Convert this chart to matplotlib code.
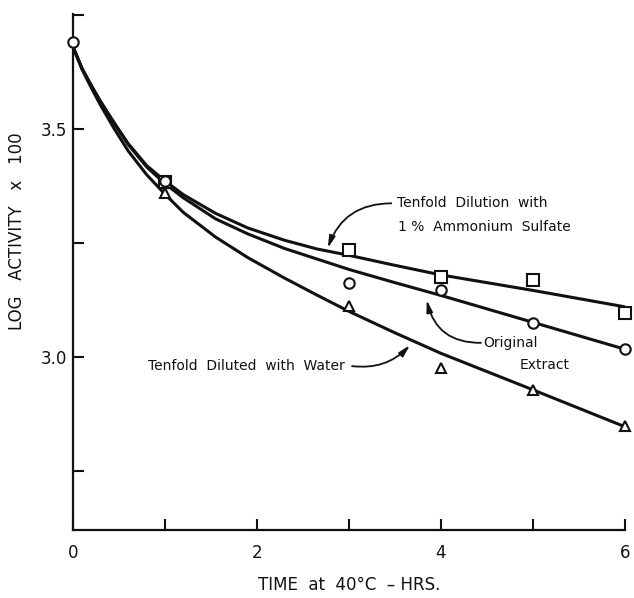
import matplotlib.pyplot as plt

# puntos medidos (horas, log actividad x 100)
t_pts = [0, 1, 3, 4, 5, 6]
sulfato_pts = [None, 3.384, 3.235, 3.176, 3.169, 3.096]
original_pts = [3.691, 3.385, 3.162, 3.148, 3.074, 3.017]
agua_pts = [None, 3.360, 3.112, 2.975, 2.928, 2.849]

# curvas trazadas a mano
t_curva = [0, 0.1, 0.2, 0.3, 0.45, 0.6, 0.8, 1.0, 1.2, 1.55, 1.9, 2.3, 2.65, 3.0,
           3.5, 4.0, 5.0, 6.0]
sulfato_curva = [3.680, 3.632, 3.595, 3.560, 3.513, 3.468, 3.420, 3.386, 3.356, 3.315,
                 3.283, 3.256, 3.237, 3.223, 3.201, 3.180, 3.146, 3.110]
original_curva = [3.680, 3.632, 3.595, 3.560, 3.512, 3.466, 3.417, 3.380, 3.349, 3.303,
                  3.270, 3.238, 3.215, 3.192, 3.163, 3.135, 3.076, 3.017]
agua_curva = [3.680, 3.630, 3.590, 3.552, 3.500, 3.452, 3.400, 3.357, 3.317, 3.263,
              3.218, 3.173, 3.136, 3.100, 3.053, 3.008, 2.928, 2.847]

x_ticks = [0, 1, 2, 3, 4, 5, 6]
x_labels = ["0", "", "2", "", "4", "", "6"]
y_ticks = [2.75, 3.0, 3.25, 3.5, 3.75]
y_labels = ["", "3.0", "", "3.5", ""]

tinta = "#111111"
plt.rcParams['font.family'] = 'DejaVu Sans'

fig = plt.figure(figsize=(6.34, 5.98), dpi=100)
ax = fig.add_axes([0.1151, 0.1137, 0.8707, 0.8629])

for curva in [sulfato_curva, original_curva, agua_curva]:
    ax.plot(t_curva, curva, color=tinta, lw=2.2, solid_capstyle="round",
            solid_joinstyle="round", zorder=2)


def puntos(ys, marker, ms):
    xs = [t for t, v in zip(t_pts, ys) if v is not None]
    vs = [v for v in ys if v is not None]
    ax.plot(xs, vs, ls="none", marker=marker, ms=ms, mfc="white", mec=tinta, mew=1.5,
            zorder=3, clip_on=False)


puntos(sulfato_pts, "s", 8.5)
puntos(agua_pts, "^", 7)
puntos(original_pts, "o", 7.5)

ax.set_xlim(0, 6)
ax.set_ylim(2.6206, 3.7522)
ax.spines["top"].set_visible(False)
ax.spines["right"].set_visible(False)
for s in ["left", "bottom"]:
    ax.spines[s].set_linewidth(1.6)
    ax.spines[s].set_color(tinta)

ax.set_xticks(x_ticks)
ax.set_xticklabels(x_labels)
ax.set_yticks(y_ticks)
ax.set_yticklabels(y_labels)
ax.tick_params(axis="both", direction="in", length=8, width=1.5, color=tinta,
               labelsize=12, labelcolor=tinta)
ax.tick_params(axis="x", pad=10)
ax.tick_params(axis="y", pad=4)

ax.set_xlabel("TIME  at  40\u00b0C  \u2013 HRS.", fontsize=12, color=tinta, labelpad=10)
ax.set_ylabel("LOG   ACTIVITY   x   100", fontsize=12, color=tinta)
ax.yaxis.set_label_coords(-0.085, 0.58)

fs = 10
ax.text(3.52, 3.338, "Tenfold  Dilution  with", fontsize=fs, color=tinta, ha="left", va="center")
ax.text(3.53, 3.285, "1 %  Ammonium  Sulfate", fontsize=fs, color=tinta, ha="left", va="center")
ax.text(4.46, 3.031, "Original", fontsize=fs, color=tinta, ha="left", va="center")
ax.text(4.86, 2.982, "Extract", fontsize=fs, color=tinta, ha="left", va="center")
ax.text(0.815, 2.980, "Tenfold  Diluted  with  Water", fontsize=fs, color=tinta,
        ha="left", va="center")

flecha = dict(arrowstyle="-|>,head_length=0.7,head_width=0.18", color=tinta, lw=1.3,
              shrinkA=0, shrinkB=0)
ax.annotate("", xy=(2.77, 3.239), xytext=(3.46, 3.337),
            arrowprops=dict(flecha, connectionstyle="arc3,rad=0.35"))
ax.annotate("", xy=(3.845, 3.125), xytext=(4.435, 3.031),
            arrowprops=dict(flecha, connectionstyle="arc3,rad=-0.4"))
ax.annotate("", xy=(3.663, 3.026), xytext=(3.033, 2.980),
            arrowprops=dict(flecha, connectionstyle="arc3,rad=0.25"))

fig.savefig("out.png", dpi=100)
